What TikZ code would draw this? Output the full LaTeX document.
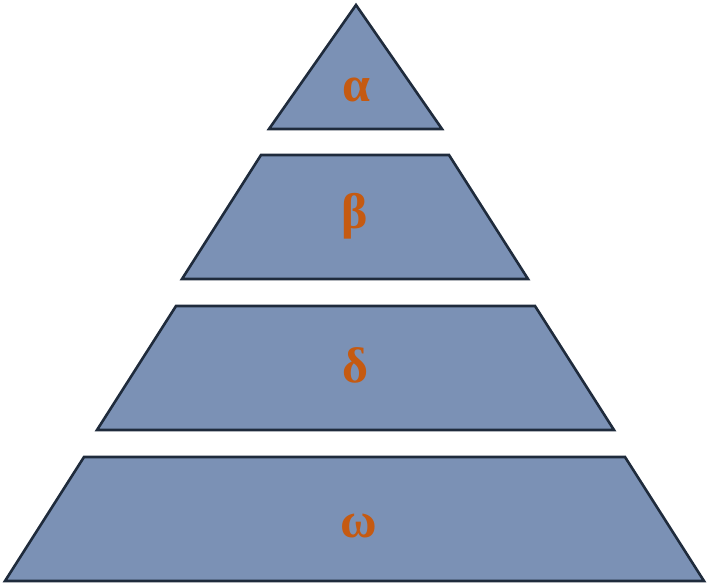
\documentclass[tikz,border=0pt]{standalone}
\usepackage{fontspec}
\setmainfont{Liberation Serif}
\definecolor{layerfill}{HTML}{7B91B5}
\definecolor{layerline}{HTML}{1F2B3C}
\definecolor{layertext}{HTML}{C55A11}

\begin{document}
\begin{tikzpicture}[x=1pt,y=-1pt]
   \tikzstyle{layer}=[draw=layerline, fill=layerfill, line width=2.6pt, line join=miter]
   \tikzstyle{every node}=[text=layertext, font=\bfseries\fontsize{50}{50}\selectfont, anchor=base, inner sep=0pt]

\useasboundingbox (0,0) rectangle (708,586);

% levels, top to bottom
\draw[layer] (356,5) -- (442,129) -- (269,129) -- cycle;
\draw[layer] (261,155) -- (449,155) -- (528,279) -- (182,279) -- cycle;
\draw[layer] (176,306) -- (535,306) -- (614,430) -- (97,430) -- cycle;
\draw[layer] (84,457) -- (625,457) -- (704,581) -- (5,581) -- cycle;

\node (alpha) at (356,101) {α};
\node (beta)  at (355,228) {β};
\node (delta) at (355,382) {δ};
\node (omega) at (359,537) {ω};

\end{tikzpicture}
\end{document}
